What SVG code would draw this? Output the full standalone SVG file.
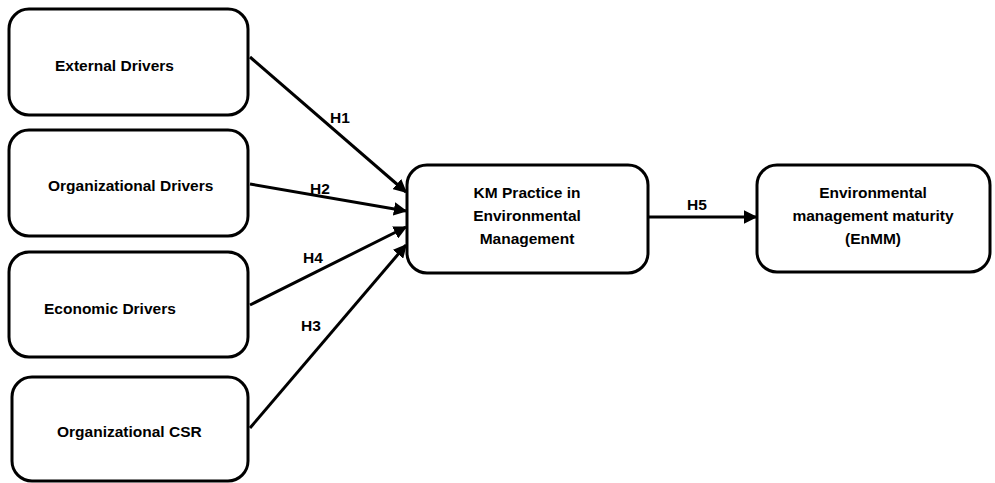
<svg xmlns="http://www.w3.org/2000/svg" width="995" height="483" viewBox="0 0 995 483">
<style>
.box{fill:#fff;stroke:#000;stroke-width:3}
.t{font-family:"Liberation Sans",Arial,sans-serif;font-weight:bold;font-size:15.5px;fill:#000}
.c{text-anchor:middle}
.ln{stroke:#000;stroke-width:3;fill:none;marker-end:url(#ah)}
</style>
<defs>
<marker id="ah" viewBox="0 0 10 10" refX="9" refY="5" markerWidth="4.5" markerHeight="4.5" orient="auto" markerUnits="strokeWidth">
<path d="M0,0 L10,5 L0,10 z" fill="#000"/>
</marker>
</defs>
<g id="n-external">
<rect class="box" x="9" y="9" width="239" height="106" rx="20"/>
<text class="t" x="55" y="71">External Drivers</text>
</g>
<g id="n-organizational">
<rect class="box" x="9" y="130" width="239" height="106" rx="20"/>
<text class="t" x="48" y="191">Organizational Drivers</text>
</g>
<g id="n-economic">
<rect class="box" x="9" y="252" width="239" height="105" rx="20"/>
<text class="t" x="44" y="314">Economic Drivers</text>
</g>
<g id="n-csr">
<rect class="box" x="12" y="377" width="236" height="104" rx="20"/>
<text class="t" x="57" y="437">Organizational CSR</text>
</g>
<g id="n-km">
<rect class="box" x="407" y="165" width="241" height="108" rx="20"/>
<text class="t c" x="527" y="198">KM Practice in</text>
<text class="t c" x="527" y="221">Environmental</text>
<text class="t c" x="527" y="244">Management</text>
</g>
<g id="n-enmm">
<rect class="box" x="757" y="165" width="233" height="107" rx="20"/>
<text class="t c" x="873" y="198">Environmental</text>
<text class="t c" x="873" y="221">management maturity</text>
<text class="t c" x="873" y="244">(EnMM)</text>
</g>
<g id="connectors">
<line class="ln" x1="250" y1="57" x2="406" y2="192"/>
<line class="ln" x1="250" y1="184" x2="406" y2="211"/>
<line class="ln" x1="250" y1="305" x2="406" y2="227"/>
<line class="ln" x1="250" y1="428" x2="406" y2="245"/>
<line class="ln" x1="648" y1="217" x2="756" y2="217"/>
<text class="t" x="330" y="123">H1</text>
<text class="t" x="310" y="194">H2</text>
<text class="t" x="303" y="263">H4</text>
<text class="t" x="301" y="331">H3</text>
<text class="t" x="687" y="210">H5</text>
</g>
</svg>
